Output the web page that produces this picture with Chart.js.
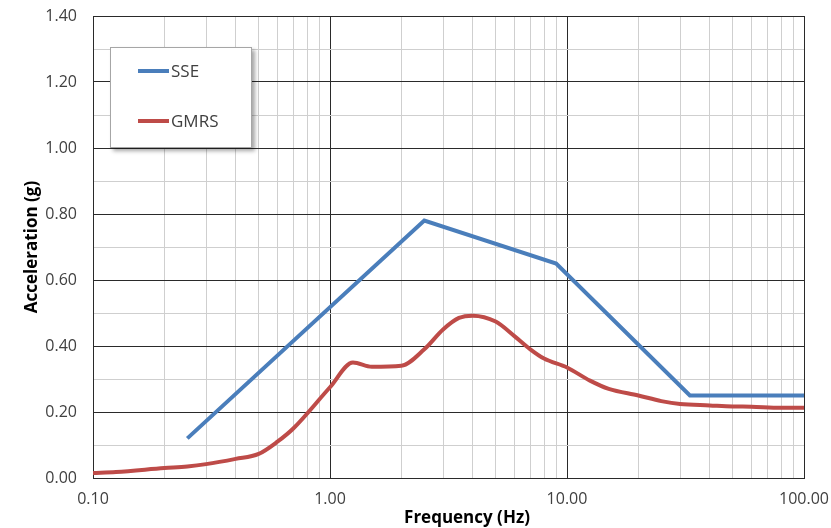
<!DOCTYPE html>
<html>
<head>
<meta charset="utf-8">
<script src="https://cdn.jsdelivr.net/npm/chart.js@4/dist/chart.umd.min.js"></script>
<style>
  html, body { margin: 0; padding: 0; background: #fff; }
  #wrap { position: relative; width: 831px; height: 528px; }
  #legend {
    position: absolute; left: 110px; top: 47px; width: 140px; height: 99px;
    background: #fff; border: 1px solid #a6a6a6;
    box-shadow: 3px 3px 4px rgba(0,0,0,0.35);
    font-family: 'Open Sans', sans-serif; font-size: 17px; color: #404040;
  }
  .item { position: absolute; left: 27px; display: flex; align-items: center; }
  .item span.ln { display: inline-block; width: 31px; height: 4px; margin-right: 2px; }
</style>
</head>
<body>
<div id="wrap">
  <canvas id="chart" width="831" height="528"></canvas>
  <div id="legend">
    <div class="item" style="top:11px"><span class="ln" style="background:#4a7ebb"></span>SSE</div>
    <div class="item" style="top:61px"><span class="ln" style="background:#be4b48"></span>GMRS</div>
  </div>
</div>
<script>
// Spectrum data (frequency in Hz, acceleration in g)
const sseFreq = [0.25, 2.5, 9.0, 33, 100];
const sseAcc = [0.12, 0.78, 0.65, 0.25, 0.25];

const gmrsFreq = [0.1, 0.125, 0.2, 0.25, 0.3, 0.4, 0.5, 0.6, 0.7, 1.0, 1.25, 1.5, 2.0, 2.5, 3.0, 3.5, 4.0, 5.0, 6.0, 7.0, 8.0, 10, 12.5, 15, 20, 25, 30, 40, 50, 60, 80, 100];
const gmrsAcc = [0.015, 0.018, 0.03, 0.035, 0.042, 0.058, 0.073, 0.11, 0.15, 0.275, 0.35, 0.337, 0.34, 0.39, 0.45, 0.485, 0.492, 0.474, 0.43, 0.39, 0.362, 0.335, 0.295, 0.27, 0.25, 0.233, 0.224, 0.22, 0.217, 0.216, 0.213, 0.213];

// log grid positions on the frequency axis
const xTicks = [0.1, 0.2, 0.3, 0.4, 0.5, 0.6, 0.7, 0.8, 0.9,
                1, 2, 3, 4, 5, 6, 7, 8, 9,
                10, 20, 30, 40, 50, 60, 70, 80, 90, 100];
const xLabels = [0.1, 1, 10, 100];

const colors = {
    sse: '#4a7ebb',
    gmrs: '#be4b48',
    major: '#2a2a2a',
    minor: '#cfcfcf'
};
const fontFamily = "'Open Sans', sans-serif";

const toPts = (xs, ys) => xs.map((x, i) => ({ x: x, y: ys[i] }));
const isMajorX = v => xLabels.some(l => Math.abs(l - v) < 1e-9);
const isMajorY = v => Math.abs(Math.round(v * 10) % 2) === 0;

// x axis title, drawn a bit right of centre like the original
const xTitle = {
    id: 'xTitle',
    afterDraw(chart) {
        const c = chart.ctx;
        c.save();
        c.font = 'bold 17px ' + fontFamily;
        c.fillStyle = '#000';
        c.textAlign = 'center';
        c.textBaseline = 'middle';
        c.fillText('Frequency (Hz)', 467, 518);
        c.restore();
    }
};

new Chart(document.getElementById('chart').getContext('2d'), {
    type: 'line',
    data: {
        datasets: [
            { label: 'SSE', data: toPts(sseFreq, sseAcc), borderColor: colors.sse, borderWidth: 4, pointRadius: 0, tension: 0 },
            { label: 'GMRS', data: toPts(gmrsFreq, gmrsAcc), borderColor: colors.gmrs, borderWidth: 4, pointRadius: 0, cubicInterpolationMode: 'monotone', tension: 0.4 }
        ]
    },
    options: {
        responsive: false,
        animation: false,
        layout: { padding: { top: 16, right: 27, left: 0, bottom: 0 } },
        plugins: { legend: { display: false }, tooltip: { enabled: false } },
        scales: {
            x: {
                type: 'logarithmic', min: 0.1, max: 100,
                afterBuildTicks: axis => { axis.ticks = xTicks.map(v => ({ value: v })); },
                afterFit: axis => { axis.height = 50; axis.paddingLeft = 0; axis.paddingRight = 0; },
                grid: {
                    color: ctx => isMajorX(ctx.tick.value) ? colors.major : colors.minor,
                    lineWidth: 1, drawTicks: false
                },
                border: { color: colors.major },
                ticks: {
                    autoSkip: false, maxRotation: 0, padding: 12,
                    color: '#404040', font: { family: fontFamily, size: 16 },
                    callback: v => isMajorX(v) ? Number(v).toFixed(2) : ''
                }
            },
            y: {
                min: 0, max: 1.4,
                afterFit: axis => { axis.width = 93; axis.paddingTop = 0; axis.paddingBottom = 0; },
                grid: {
                    color: ctx => isMajorY(ctx.tick.value) ? colors.major : colors.minor,
                    lineWidth: 1, drawTicks: false
                },
                border: { color: colors.major },
                ticks: {
                    stepSize: 0.1, autoSkip: false, padding: 16,
                    color: '#404040', font: { family: fontFamily, size: 16 },
                    callback: v => isMajorY(v) ? Number(v).toFixed(2) : ''
                },
                title: {
                    display: true, text: 'Acceleration (g)', color: '#000',
                    font: { family: fontFamily, size: 17, weight: 'bold' },
                    padding: { top: 22, bottom: 0 }
                }
            }
        }
    },
    plugins: [xTitle]
});
</script>
</body>
</html>
